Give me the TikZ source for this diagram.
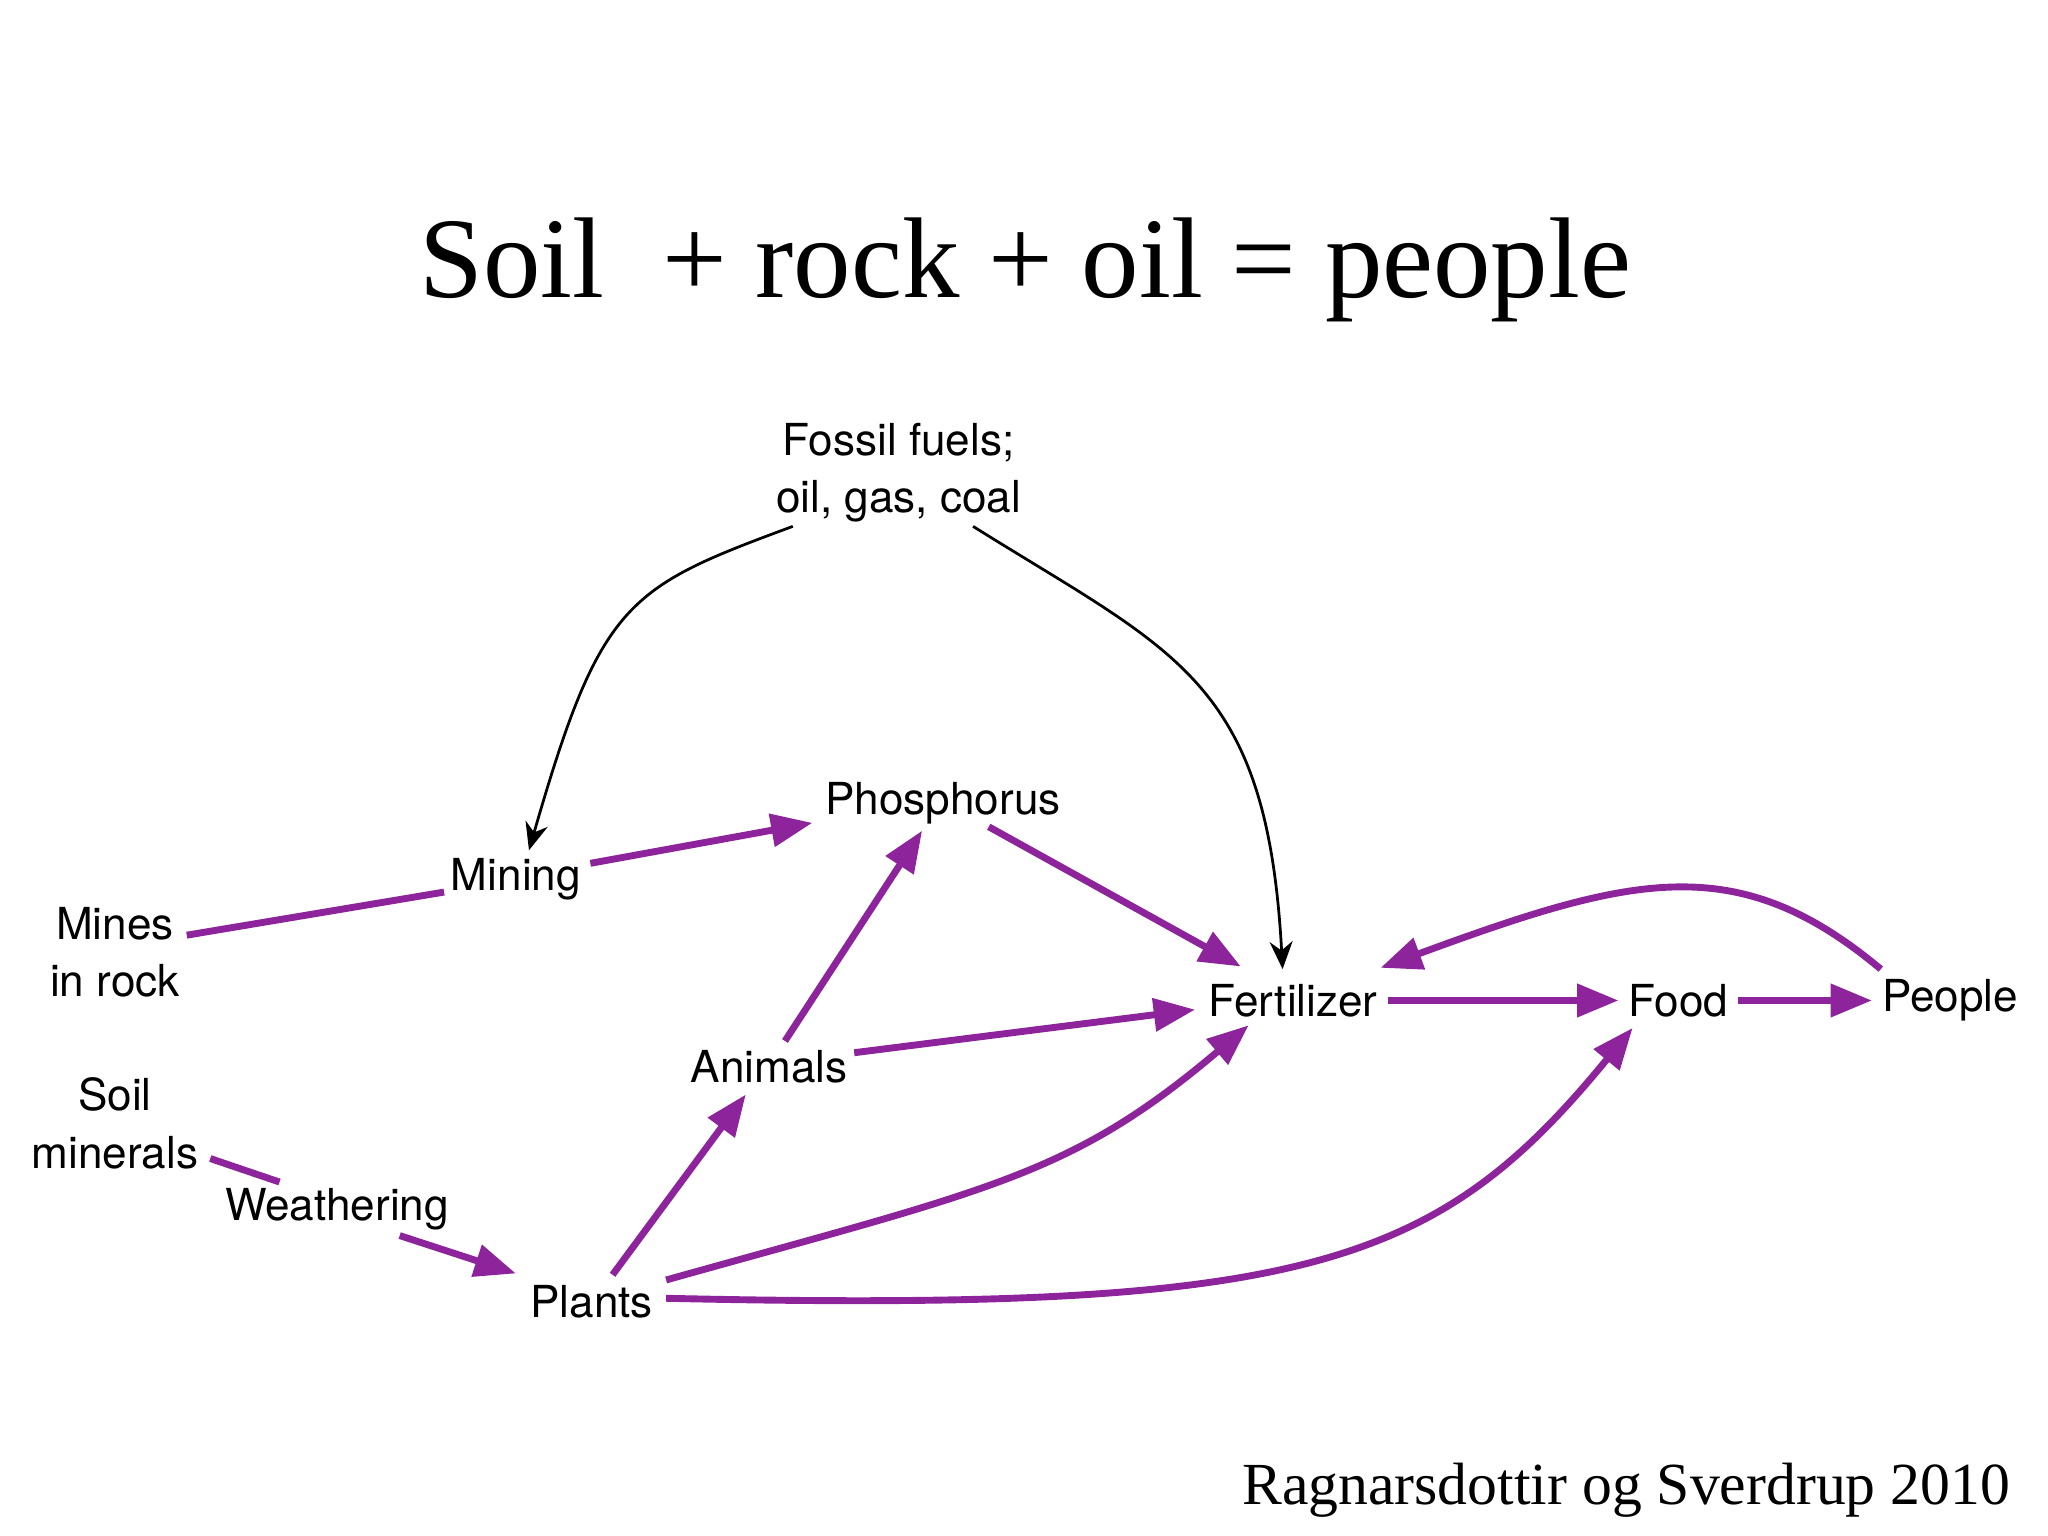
\documentclass[tikz,border=0pt]{standalone}
\usepackage{fontspec}
\setmainfont{Liberation Serif}
\newfontfamily\lblfont{TeX Gyre Heros}
\usetikzlibrary{arrows.meta}
\begin{document}
\begin{tikzpicture}[x=0.01cm,y=-0.01cm,
  lbl/.style={font=\lblfont\fontsize{9.6pt}{12.5pt}\selectfont, align=center, inner sep=2pt},
  pe/.style={draw={rgb,255:red,142;green,36;blue,156}, line width=1.5pt, -{Triangle[length=9pt,width=7pt]}},
  pl/.style={draw={rgb,255:red,142;green,36;blue,156}, line width=1.5pt},
  bk/.style={draw=black, line width=0.6pt, -{Stealth[length=6pt,width=5pt]}}]
\useasboundingbox (0,0) rectangle (1568,1176);
\node (title) at (785,207) {\fontsize{25pt}{30pt}\selectfont Soil\ \ + rock + oil = people};
\node[lbl] (fossil) at (688,362) {Fossil fuels;\\oil, gas, coal};
\node[lbl] (phos) at (722,615) {Phosphorus};
\node[lbl] (mining) at (395,673) {Mining};
\node[lbl] (mines) at (88,729) {Mines\\in rock};
\node[lbl] (soil) at (88,860) {Soil\\minerals};
\node[lbl] (weath) at (258,926) {Weathering};
\node[lbl] (plants) at (453,997) {Plants};
\node[lbl] (animals) at (589,817) {Animals};
\node[lbl] (fert) at (990,766) {Fertilizer};
\node[lbl] (food) at (1285,766) {Food};
\node[lbl] (people) at (1493,766) {People};
\node (cite) at (1245,1141) {\fontsize{13pt}{16pt}\selectfont Ragnarsdottir og Sverdrup 2010};
\coordinate (m1) at (143,716);
\coordinate (m2) at (340,683);
\draw[pl] (m1) -- (m2);
\coordinate (n1) at (452,661);
\coordinate (n2) at (622,630);
\draw[pe] (n1) -- (n2);
\draw[bk] (607,403) .. controls (480,450) and (460,460) .. (405,651);
\draw[bk] (745,403) .. controls (900,500) and (970,520) .. (982,742);
\draw[pe] (757,633) -- (950,740);
\draw[pe] (601,797) -- (706,636);
\draw[pe] (654,806) -- (915,773);
\draw[pe] (469,976) -- (571,838);
\draw[pe] (510,980) .. controls (760,910) and (820,900) .. (956,785);
\draw[pe] (510,994) .. controls (1000,1005) and (1100,970) .. (1250,787);
\draw[pl] (161,887) -- (214,905);
\draw[pe] (306,946) -- (395,975);
\draw[pe] (fert.east) -- (food.west);
\draw[pe] (food.east) -- (people.west);
\draw[pe] (1440,742) .. controls (1330,650) and (1250,670) .. (1057,741);
\end{tikzpicture}
\end{document}
